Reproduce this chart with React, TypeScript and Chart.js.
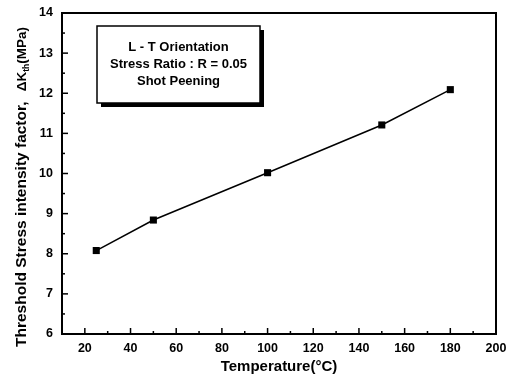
import React, { useEffect, useRef } from "react";
import { Chart, registerables } from "chart.js";

Chart.register(...registerables);

const temperatures = [25, 50, 100, 150, 180];
const thresholdK = [8.08, 8.84, 10.02, 11.21, 12.09];
const boxLines = ["L - T Orientation", "Stress Ratio : R = 0.05", "Shot Peening"];
const xTitle = "Temperature(°C)";
const yTitlePart1 = "Threshold Stress intensity factor,";
const yTitlePart2 = ["ΔK", "th", "(MPa)"];

const FONT = "'Liberation Sans', Arial, sans-serif";

const framePlugin = {
  id: "frame",
  afterDraw(chart: any) {
    const { ctx, chartArea: a, scales } = chart;
    const xs = scales.x;
    const ys = scales.y;
    ctx.save();
    ctx.strokeStyle = "#000";
    ctx.lineWidth = 2;
    ctx.strokeRect(a.left, a.top, a.right - a.left, a.bottom - a.top);
    ctx.lineWidth = 1.5;
    for (let v = 10; v <= 200; v += 10) {
      const px = xs.getPixelForValue(v);
      const len = v % 20 === 0 ? 6 : 3;
      ctx.beginPath();
      ctx.moveTo(px, a.bottom);
      ctx.lineTo(px, a.bottom - len);
      ctx.stroke();
    }
    for (let v = 6; v <= 14; v += 0.5) {
      const py = ys.getPixelForValue(v);
      const len = Math.abs(v - Math.round(v)) < 1e-6 ? 6 : 3;
      ctx.beginPath();
      ctx.moveTo(a.left, py);
      ctx.lineTo(a.left + len, py);
      ctx.stroke();
    }
    // annotation box
    const bx = 97, by = 26, bw = 163, bh = 77;
    ctx.fillStyle = "#000";
    ctx.fillRect(bx + 4, by + 4, bw, bh);
    ctx.fillStyle = "#fff";
    ctx.fillRect(bx, by, bw, bh);
    ctx.lineWidth = 1.5;
    ctx.strokeRect(bx, by, bw, bh);
    ctx.fillStyle = "#000";
    ctx.font = `bold 13px ${FONT}`;
    ctx.textAlign = "center";
    ctx.textBaseline = "middle";
    const lineYs = [47, 64, 81];
    boxLines.forEach((t, i) => ctx.fillText(t, bx + bw / 2, lineYs[i]));
    // x title
    ctx.font = `bold 15px ${FONT}`;
    ctx.fillText(xTitle, (a.left + a.right) / 2, 367);
    // y title
    ctx.translate(22, 0);
    ctx.rotate(-Math.PI / 2);
    ctx.textAlign = "left";
    ctx.font = `bold 15.5px ${FONT}`;
    ctx.fillText(yTitlePart1, -347, 0);
    const big = `bold 13.5px ${FONT}`;
    const small = `bold 8.5px ${FONT}`;
    ctx.font = big;
    const w0 = ctx.measureText(yTitlePart2[0]).width;
    const w2 = ctx.measureText(yTitlePart2[2]).width;
    ctx.font = small;
    const w1 = ctx.measureText(yTitlePart2[1]).width;
    const x0 = -27 - (w0 + w1 + w2);
    ctx.font = big;
    ctx.fillText(yTitlePart2[0], x0, 0);
    ctx.font = small;
    ctx.fillText(yTitlePart2[1], x0 + w0, 5);
    ctx.font = big;
    ctx.fillText(yTitlePart2[2], x0 + w0 + w1, 0);
    ctx.restore();
  },
};

export default function App() {
  const ref = useRef<HTMLCanvasElement>(null);
  useEffect(() => {
    const chart = new Chart(ref.current!, {
      type: "line",
      data: {
        datasets: [
          {
            data: temperatures.map((t, i) => ({ x: t, y: thresholdK[i] })),
            borderColor: "#000",
            backgroundColor: "#000",
            borderWidth: 1.5,
            pointStyle: "rect",
            pointRadius: 5,
            pointBorderWidth: 0,
            tension: 0,
          },
        ],
      },
      options: {
        animation: false,
        responsive: false,
        maintainAspectRatio: false,
        layout: { padding: { top: 13, right: 12, left: 0, bottom: 0 } },
        plugins: { legend: { display: false }, tooltip: { enabled: false } },
        scales: {
          x: {
            type: "linear",
            min: 10,
            max: 200,
            grid: { display: false, drawTicks: false },
            border: { display: false },
            afterFit: (s: any) => {
              s.height = 45;
              s.paddingLeft = 0;
              s.paddingRight = 0;
            },
            ticks: {
              stepSize: 10,
              autoSkip: false,
              maxRotation: 0,
              padding: 7,
              color: "#000",
              font: { family: FONT, size: 12.5, weight: "bold" },
              callback: (v: any) => (v % 20 === 0 ? String(v) : ""),
            },
          },
          y: {
            type: "linear",
            min: 6,
            max: 14,
            grid: { display: false, drawTicks: false },
            border: { display: false },
            afterFit: (s: any) => {
              s.width = 62;
              s.paddingTop = 0;
              s.paddingBottom = 0;
            },
            ticks: {
              stepSize: 1,
              padding: 9,
              color: "#000",
              font: { family: FONT, size: 12.5, weight: "bold" },
            },
          },
        },
      },
      plugins: [framePlugin],
    } as any);
    return () => chart.destroy();
  }, []);
  return (
    <div style={{ position: "fixed", left: 0, top: 0, width: 508, height: 379, background: "#fff" }}>
      <canvas ref={ref} width={508} height={379} />
    </div>
  );
}
